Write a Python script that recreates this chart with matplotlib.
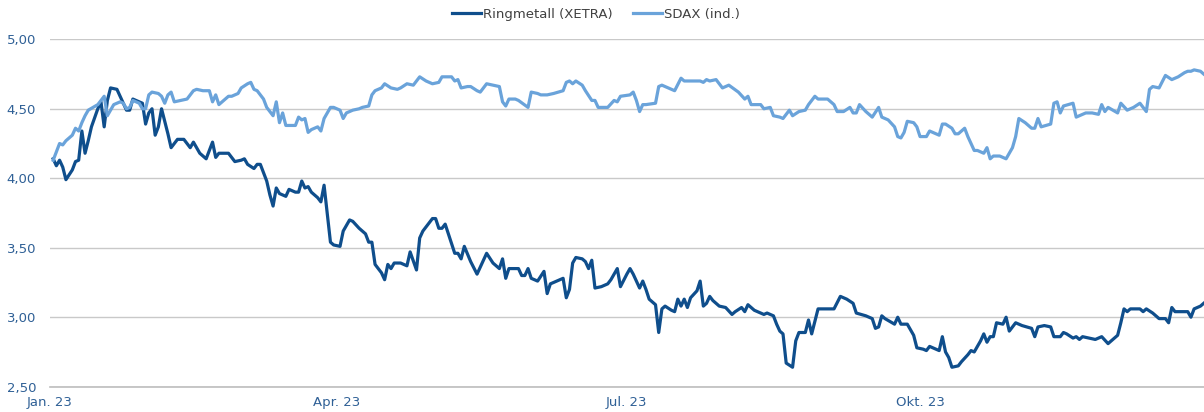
import numpy as np
import pandas as pd
import matplotlib
matplotlib.use("Agg")
import matplotlib.pyplot as plt
from matplotlib.ticker import FuncFormatter

# day of year (1 = 1 Jan 2023) and closing values
ring_days = [2, 3, 4, 5, 6, 8, 9, 10, 11, 12, 13, 14, 16, 17, 18, 19, 20, 22, 23, 25,
             26, 27, 28, 30, 31, 32, 33, 34, 35, 36, 38, 39, 41, 43, 45, 46, 48, 50, 52, 53,
             54, 57, 59, 61, 62, 63, 65, 66, 67, 69, 70, 71, 72, 73, 75, 76, 78, 79, 80, 81,
             82, 83, 85, 86, 87, 89, 90, 92, 93, 95, 96, 98, 100, 101, 102, 103, 105, 106, 107, 108,
             109, 111, 113, 114, 116, 117, 118, 121, 122, 123, 124, 125, 126, 128, 129, 130, 131, 133, 135, 138,
             140, 142, 143, 144, 145, 148, 149, 150, 151, 152, 154, 156, 157, 158, 160, 162, 163, 164, 165, 166,
             168, 169, 170, 171, 172, 174, 176, 177, 179, 180, 182, 183, 184, 186, 187, 188, 189, 191, 192, 193,
             194, 196, 197, 198, 199, 200, 201, 202, 204, 205, 206, 207, 208, 209, 211, 213, 215, 216, 218, 219,
             220, 222, 223, 225, 226, 228, 229, 230, 231, 232, 234, 235, 236, 238, 239, 240, 242, 244, 247, 249,
             251, 253, 254, 257, 259, 260, 261, 262, 263, 266, 267, 268, 270, 272, 273, 275, 276, 277, 279, 280,
             281, 282, 283, 284, 286, 287, 289, 290, 291, 293, 294, 295, 296, 297, 298, 300, 301, 302, 304, 306,
             309, 310, 311, 313, 315, 316, 318, 319, 320, 322, 323, 324, 325, 327, 329, 331, 333, 334, 336, 337,
             338, 339, 340, 343, 344, 345, 347, 349, 351, 352, 353, 354, 356, 358, 359, 360, 362, 363]
ring_vals = [4.14, 4.09, 4.13, 4.08, 3.99, 4.06, 4.12, 4.13, 4.34, 4.18, 4.27, 4.37, 4.50, 4.55, 4.37, 4.56, 4.65, 4.64, 4.59, 4.49,
             4.49, 4.57, 4.56, 4.54, 4.39, 4.47, 4.50, 4.31, 4.37, 4.50, 4.32, 4.22, 4.28, 4.28, 4.22, 4.26, 4.18, 4.14, 4.26, 4.15,
             4.18, 4.18, 4.12, 4.13, 4.14, 4.10, 4.07, 4.10, 4.10, 3.98, 3.88, 3.80, 3.93, 3.89, 3.87, 3.92, 3.90, 3.90, 3.98, 3.93,
             3.94, 3.90, 3.86, 3.83, 3.95, 3.54, 3.52, 3.51, 3.62, 3.70, 3.69, 3.64, 3.60, 3.54, 3.54, 3.38, 3.32, 3.27, 3.38, 3.35,
             3.39, 3.39, 3.37, 3.47, 3.34, 3.57, 3.62, 3.71, 3.71, 3.64, 3.64, 3.67, 3.60, 3.46, 3.46, 3.42, 3.51, 3.40, 3.31, 3.46,
             3.39, 3.35, 3.42, 3.28, 3.35, 3.35, 3.30, 3.30, 3.35, 3.28, 3.26, 3.33, 3.17, 3.24, 3.26, 3.28, 3.14, 3.20, 3.39, 3.43,
             3.42, 3.40, 3.35, 3.41, 3.21, 3.22, 3.24, 3.27, 3.35, 3.22, 3.31, 3.35, 3.31, 3.21, 3.26, 3.20, 3.13, 3.09, 2.89, 3.06,
             3.08, 3.05, 3.04, 3.13, 3.08, 3.13, 3.07, 3.14, 3.19, 3.26, 3.08, 3.10, 3.15, 3.12, 3.08, 3.07, 3.02, 3.04, 3.07, 3.04,
             3.09, 3.05, 3.04, 3.02, 3.03, 3.01, 2.95, 2.90, 2.88, 2.67, 2.64, 2.83, 2.89, 2.89, 2.98, 2.88, 3.06, 3.06, 3.06, 3.15,
             3.13, 3.10, 3.03, 3.01, 2.99, 2.92, 2.93, 3.01, 2.99, 2.95, 3.00, 2.95, 2.95, 2.87, 2.78, 2.77, 2.76, 2.79, 2.77, 2.76,
             2.86, 2.75, 2.71, 2.64, 2.65, 2.68, 2.73, 2.76, 2.75, 2.83, 2.88, 2.82, 2.86, 2.86, 2.96, 2.95, 3.00, 2.90, 2.96, 2.94,
             2.92, 2.86, 2.93, 2.94, 2.93, 2.86, 2.86, 2.89, 2.88, 2.85, 2.86, 2.84, 2.86, 2.85, 2.84, 2.86, 2.81, 2.83, 2.87, 2.96,
             3.06, 3.04, 3.06, 3.06, 3.04, 3.06, 3.03, 2.99, 2.99, 2.96, 3.07, 3.04, 3.04, 3.04, 3.00, 3.06, 3.08, 3.10]

sdax_days = [2, 3, 4, 5, 6, 8, 9, 10, 11, 12, 13, 16, 17, 18, 19, 20, 21, 23, 24, 25,
             26, 27, 29, 30, 31, 32, 33, 35, 36, 37, 38, 39, 40, 42, 44, 46, 47, 49, 51, 52,
             53, 54, 57, 58, 60, 61, 63, 64, 65, 66, 68, 69, 71, 72, 73, 74, 75, 77, 78, 79,
             80, 81, 82, 83, 85, 86, 87, 89, 90, 92, 93, 94, 96, 98, 99, 101, 102, 103, 105, 106,
             108, 110, 111, 113, 115, 117, 119, 121, 123, 124, 125, 127, 128, 129, 130, 132, 133, 135, 136, 138,
             140, 142, 143, 144, 145, 147, 148, 151, 152, 154, 155, 157, 159, 162, 163, 164, 165, 166, 168, 169,
             171, 172, 173, 176, 178, 179, 180, 183, 184, 185, 186, 187, 188, 191, 192, 193, 195, 197, 199, 200,
             203, 205, 206, 207, 208, 210, 212, 214, 217, 219, 220, 221, 224, 225, 227, 228, 230, 231, 233, 234,
             236, 238, 239, 240, 241, 242, 245, 247, 248, 250, 252, 253, 254, 255, 257, 259, 261, 262, 264, 266,
             267, 268, 269, 270, 272, 273, 274, 276, 277, 279, 280, 281, 282, 284, 285, 286, 288, 289, 291, 292,
             294, 295, 296, 297, 299, 301, 303, 304, 305, 307, 309, 310, 311, 312, 315, 316, 317, 318, 319, 322,
             323, 324, 326, 328, 330, 331, 332, 333, 336, 337, 339, 341, 343, 345, 346, 347, 349, 351, 353, 355,
             357, 358, 359, 360, 362, 363]
sdax_vals = [4.13, 4.19, 4.25, 4.24, 4.27, 4.31, 4.36, 4.34, 4.40, 4.45, 4.49, 4.53, 4.56, 4.59, 4.45, 4.49, 4.53, 4.55, 4.54, 4.50,
             4.51, 4.56, 4.54, 4.50, 4.50, 4.60, 4.62, 4.61, 4.59, 4.54, 4.60, 4.62, 4.55, 4.56, 4.57, 4.63, 4.64, 4.63, 4.63, 4.55,
             4.60, 4.53, 4.59, 4.59, 4.61, 4.65, 4.68, 4.69, 4.64, 4.63, 4.57, 4.51, 4.45, 4.55, 4.40, 4.47, 4.38, 4.38, 4.38, 4.44,
             4.42, 4.43, 4.33, 4.35, 4.37, 4.34, 4.43, 4.51, 4.51, 4.49, 4.43, 4.47, 4.49, 4.50, 4.51, 4.52, 4.60, 4.63, 4.65, 4.68,
             4.65, 4.64, 4.65, 4.68, 4.67, 4.73, 4.70, 4.68, 4.69, 4.73, 4.73, 4.73, 4.70, 4.71, 4.65, 4.66, 4.66, 4.63, 4.62, 4.68,
             4.67, 4.66, 4.55, 4.52, 4.57, 4.57, 4.56, 4.51, 4.62, 4.61, 4.60, 4.60, 4.61, 4.63, 4.69, 4.70, 4.68, 4.70, 4.67, 4.63,
             4.56, 4.56, 4.51, 4.51, 4.56, 4.55, 4.59, 4.60, 4.62, 4.56, 4.48, 4.53, 4.53, 4.54, 4.66, 4.67, 4.65, 4.63, 4.72, 4.70,
             4.70, 4.70, 4.69, 4.71, 4.70, 4.71, 4.65, 4.67, 4.62, 4.57, 4.59, 4.53, 4.53, 4.50, 4.51, 4.45, 4.44, 4.43, 4.49, 4.45,
             4.48, 4.49, 4.53, 4.56, 4.59, 4.57, 4.57, 4.53, 4.48, 4.48, 4.51, 4.47, 4.47, 4.53, 4.48, 4.44, 4.51, 4.44, 4.42, 4.37,
             4.30, 4.29, 4.33, 4.41, 4.40, 4.37, 4.30, 4.30, 4.34, 4.32, 4.31, 4.39, 4.39, 4.36, 4.32, 4.32, 4.36, 4.30, 4.20, 4.20,
             4.18, 4.22, 4.14, 4.16, 4.16, 4.14, 4.22, 4.30, 4.43, 4.40, 4.36, 4.36, 4.43, 4.37, 4.39, 4.54, 4.55, 4.47, 4.52, 4.54,
             4.44, 4.45, 4.47, 4.47, 4.46, 4.53, 4.48, 4.51, 4.47, 4.54, 4.49, 4.51, 4.54, 4.48, 4.64, 4.66, 4.65, 4.74, 4.71, 4.73,
             4.76, 4.77, 4.77, 4.78, 4.77, 4.75]

tick_dates = ["2023-01-01", "2023-04-01", "2023-07-01", "2023-10-01"]
tick_labels = ["Jan. 23", "Apr. 23", "Jul. 23", "Okt. 23"]
y_ticks = [2.5, 3.0, 3.5, 4.0, 4.5, 5.0]

start = pd.Timestamp("2023-01-01")
ring_x = start + pd.to_timedelta(np.array(ring_days) - 1, unit="D")
sdax_x = start + pd.to_timedelta(np.array(sdax_days) - 1, unit="D")

dark = "#0f4e8c"
light = "#6aa3da"
label_col = "#2f6096"

plt.rcParams["font.family"] = ["DejaVu Sans"]

fig = plt.figure(figsize=(12.04, 4.12), dpi=100)
ax = fig.add_axes([50 / 1204, 25.3 / 412, 1154 / 1204, 347.4 / 412])

ax.plot(ring_x, ring_vals, color=dark, lw=2.3, label="Ringmetall (XETRA)", solid_joinstyle="round")
ax.plot(sdax_x, sdax_vals, color=light, lw=2.3, label="SDAX (ind.)", solid_joinstyle="round")

ax.set_ylim(2.5, 5.0)
ax.set_xlim(start + pd.Timedelta(hours=9), start + pd.Timedelta(days=362.1))
ax.set_yticks(y_ticks)
ax.yaxis.set_major_formatter(FuncFormatter(lambda v, p: f"{v:.2f}".replace(".", ",")))
ax.set_xticks(pd.to_datetime(tick_dates))
ax.set_xticklabels(tick_labels)

ax.grid(axis="y", color="#c9c9c9", lw=1.0)
ax.set_axisbelow(True)
for s in ["top", "right", "left"]:
    ax.spines[s].set_visible(False)
ax.spines["bottom"].set_color("#bdbdbd")
ax.spines["bottom"].set_linewidth(1.2)

ax.tick_params(axis="y", length=0, pad=10, labelsize=9.5, labelcolor=label_col)
ax.tick_params(axis="x", length=0, pad=7, labelsize=9.5, labelcolor=label_col)

fig.legend(loc="upper center", bbox_to_anchor=(0.495, 1.01), ncol=2, frameon=False,
           fontsize=9.5, handlelength=2.2, handletextpad=0.15, columnspacing=1.6,
           labelcolor="#404040")

fig.savefig("out.png", dpi=100)
